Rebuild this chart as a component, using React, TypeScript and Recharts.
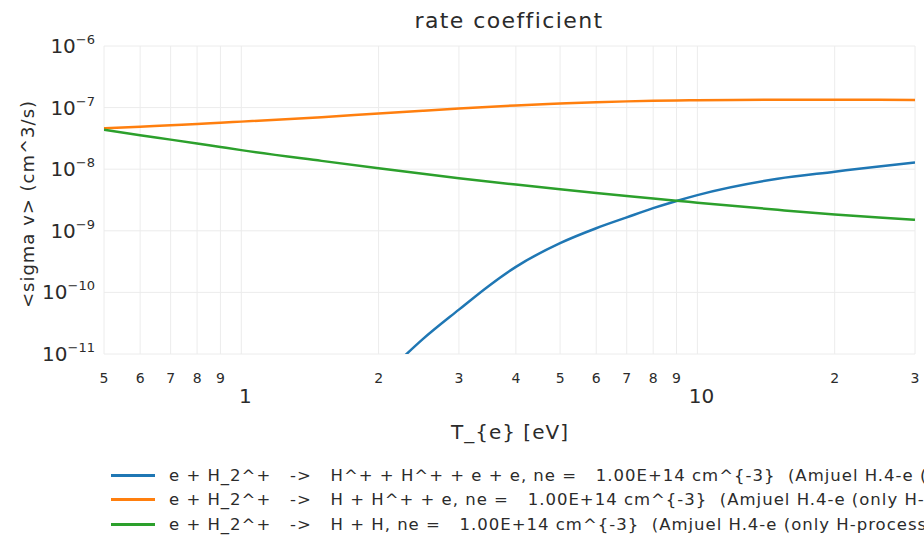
import React from "react";
import {
  LineChart,
  Line,
  XAxis,
  YAxis,
  CartesianGrid,
} from "recharts";

// T_e grid [eV] and rate coefficients [cm^3/s]
const tLow = [0.5, 0.6, 0.7, 0.8, 0.9, 1, 1.5, 2, 2.5, 3, 4, 5, 6, 7, 8, 9, 10, 15, 20, 25, 30];
const orangeVals = [4.6e-8, 4.9e-8, 5.19e-8, 5.43e-8, 5.69e-8, 5.92e-8, 7.0e-8, 8.04e-8, 8.91e-8, 9.66e-8, 1.084e-7, 1.161e-7, 1.222e-7, 1.262e-7, 1.29e-7, 1.31e-7, 1.322e-7, 1.34e-7, 1.343e-7, 1.337e-7, 1.327e-7];
const greenVals = [4.37e-8, 3.57e-8, 3.02e-8, 2.61e-8, 2.29e-8, 2.04e-8, 1.365e-8, 1.035e-8, 8.41e-9, 7.16e-9, 5.62e-9, 4.71e-9, 4.1e-9, 3.66e-9, 3.33e-9, 3.08e-9, 2.86e-9, 2.19e-9, 1.84e-9, 1.64e-9, 1.51e-9];

const tBlue = [2.25, 2.5, 3, 3.5, 4, 5, 6, 7, 8, 9, 10, 15, 20, 25, 30];
const blueVals = [8.5e-12, 1.74e-11, 5.25e-11, 1.3e-10, 2.6e-10, 6.3e-10, 1.1e-9, 1.65e-9, 2.33e-9, 3.05e-9, 3.8e-9, 7.0e-9, 9.1e-9, 1.11e-8, 1.28e-8];

const xTicks = [0.5, 0.6, 0.7, 0.8, 0.9, 1, 2, 3, 4, 5, 6, 7, 8, 9, 10, 20, 30];
const yExps = [-11, -10, -9, -8, -7, -6];
const yTicks = yExps.map((e) => Math.pow(10, e));

const seriesNames = [
  "e + H_2^+   ->   H^+ + H^+ + e + e, ne =   1.00E+14 cm^{-3}  (Amjuel H.4-e (only H-processes))",
  "e + H_2^+   ->   H + H^+ + e, ne =   1.00E+14 cm^{-3}  (Amjuel H.4-e (only H-processes))",
  "e + H_2^+   ->   H + H, ne =   1.00E+14 cm^{-3}  (Amjuel H.4-e (only H-processes))",
];
const colors = ["#1f77b4", "#ff7f0e", "#2ca02c"];

const blueData = tBlue.map((x, i) => ({ x, y: blueVals[i] }));
const orangeData = tLow.map((x, i) => ({ x, y: orangeVals[i] }));
const greenData = tLow.map((x, i) => ({ x, y: greenVals[i] }));

const FONT = "'DejaVu Sans', Verdana, sans-serif";
const TEXT = "#2b2b2b";

const XTick = (props: any) => {
  const { x, y, payload } = props;
  const v = payload.value;
  if (v === 1 || v === 10) {
    return (
      <text x={x + 4} y={y + 41} textAnchor="middle" fontSize={20} fill={TEXT} fontFamily={FONT}>
        {String(v)}
      </text>
    );
  }
  const digit = String(Math.round(v >= 1 ? v / Math.pow(10, Math.floor(Math.log10(v))) : v * 10));
  return (
    <text x={x} y={y + 21} textAnchor="middle" fontSize={14} fill={TEXT} fontFamily={FONT}>
      {digit}
    </text>
  );
};

const YTick = (props: any) => {
  const { x, y, payload } = props;
  const e = Math.round(Math.log10(payload.value));
  return (
    <text x={x - 1} y={y + 7} textAnchor="end" fill={TEXT} fontFamily={FONT}>
      <tspan fontSize={20}>10</tspan>
      <tspan fontSize={13} dy={-9}>{"\u2212" + Math.abs(e)}</tspan>
    </text>
  );
};

export default function App() {
  return (
    <div
      style={{
        position: "absolute",
        left: 0,
        top: 0,
        width: 924,
        height: 546,
        overflow: "hidden",
        background: "#fff",
        fontFamily: FONT,
        color: TEXT,
      }}
    >
      <div
        style={{
          position: "absolute",
          left: 509,
          top: 20,
          transform: "translate(-50%, -50%)",
          fontSize: 22,
          letterSpacing: 1.4,
          whiteSpace: "nowrap",
        }}
      >
        rate coefficient
      </div>
      <div
        style={{
          position: "absolute",
          left: 27,
          top: 204,
          transform: "translate(-50%, -50%) rotate(-90deg)",
          fontSize: 18,
          letterSpacing: 1,
          whiteSpace: "nowrap",
        }}
      >
        {"<sigma v> (cm^3/s)"}
      </div>
      <div
        style={{
          position: "absolute",
          left: 510,
          top: 432,
          transform: "translate(-50%, -50%)",
          fontSize: 20,
          letterSpacing: 1,
          whiteSpace: "nowrap",
        }}
      >
        {"T_{e} [eV]"}
      </div>

      <div style={{ position: "absolute", left: 0, top: 0 }}>
        <LineChart width={924} height={546} margin={{ top: 46, right: 9, bottom: 112, left: 0 }}>
          <CartesianGrid stroke="#ececec" strokeWidth={1} />
          <XAxis
            dataKey="x"
            type="number"
            scale="log"
            domain={[0.5, 30]}
            ticks={xTicks}
            interval={0}
            allowDataOverflow
            axisLine={false}
            tickLine={false}
            height={80}
            tick={<XTick />}
          />
          <YAxis
            dataKey="y"
            type="number"
            scale="log"
            domain={[1e-11, 1e-6]}
            ticks={yTicks}
            interval={0}
            allowDataOverflow
            axisLine={false}
            tickLine={false}
            width={104}
            tick={<YTick />}
          />
          <Line data={blueData} dataKey="y" type="monotone" stroke={colors[0]} strokeWidth={2.5} dot={false} isAnimationActive={false} />
          <Line data={orangeData} dataKey="y" type="monotone" stroke={colors[1]} strokeWidth={2.5} dot={false} isAnimationActive={false} />
          <Line data={greenData} dataKey="y" type="monotone" stroke={colors[2]} strokeWidth={2.5} dot={false} isAnimationActive={false} />
        </LineChart>
      </div>

      {seriesNames.map((name, i) => (
        <div
          key={i}
          style={{
            position: "absolute",
            left: 111,
            top: 475 + i * 24.5 - 11,
            height: 22,
            display: "flex",
            alignItems: "center",
            whiteSpace: "pre",
            fontSize: 16.5,
            letterSpacing: 1,
          }}
        >
          <span style={{ display: "inline-block", width: 44, height: 3, background: colors[i], marginRight: 14, flexShrink: 0 }} />
          <span>{name}</span>
        </div>
      ))}
    </div>
  );
}
